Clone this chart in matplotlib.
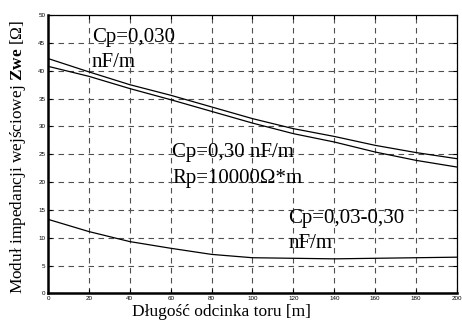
import matplotlib.pyplot as plt

plt.rcParams['font.family'] = ['Liberation Serif', 'DejaVu Serif']
plt.rcParams['mathtext.fontset'] = 'custom'
plt.rcParams['mathtext.rm'] = 'Liberation Serif'
plt.rcParams['mathtext.bf'] = 'Liberation Serif:bold'

# Data
x = [0, 20, 40, 60, 80, 100, 120, 140, 160, 180, 200]
z_cp030 = [42.2, 39.8, 37.5, 35.6, 33.5, 31.4, 29.6, 28.2, 26.6, 25.3, 24.2]
z_cp300 = [40.8, 39.0, 36.8, 34.8, 32.7, 30.6, 28.7, 27.2, 25.4, 23.9, 22.7]
z_rp = [13.3, 11.1, 9.3, 8.1, 7.0, 6.4, 6.3, 6.2, 6.3, 6.4, 6.5]

xticks = list(range(0, 201, 20))
yticks = list(range(0, 51, 5))

fig = plt.figure(figsize=(4.62, 3.22), dpi=100)
ax = fig.add_axes([0.104, 0.089, 0.885, 0.864])

ax.plot(x, z_cp030, color="black", lw=0.9)
ax.plot(x, z_cp300, color="black", lw=0.9)
ax.plot(x, z_rp, color="black", lw=0.9)

ax.set_xlim(0, 200)
ax.set_ylim(0, 50)
ax.set_xticks(xticks)
ax.set_yticks(yticks)
ax.tick_params(direction="in", labelsize=4.5, length=3, width=0.8, pad=2,
               top=True, right=True)
for lbl in ax.get_xticklabels() + ax.get_yticklabels():
    lbl.set_family("Liberation Sans")
ax.grid(True, color="#505050", linestyle=(0, (5, 4)), linewidth=0.8)

for side in ["left", "bottom"]:
    ax.spines[side].set_linewidth(1.8)
for side in ["top", "right"]:
    ax.spines[side].set_linewidth(0.9)

ax.set_xlabel("Długość odcinka toru [m]", fontsize=12.5)
ax.xaxis.set_label_coords(0.425, -0.04)
ax.set_ylabel(r"Moduł impedancji wejściowej $\mathbf{Zwe}$ [Ω]", fontsize=12.4)
ax.yaxis.set_label_coords(-0.05, 0.49)

# annotations, one line per call
fs = 15
ax.text(21.5, 45.2, "Cp=0,030", fontsize=fs, va="baseline")
ax.text(21.5, 40.7, "nF/m", fontsize=fs, va="baseline")
ax.text(60.6, 24.5, "Cp=0,30 nF/m", fontsize=fs, va="baseline")
ax.text(60.6, 19.9, "Rp=10000Ω*m", fontsize=fs, va="baseline")
ax.text(117.4, 12.6, "Cp=0,03-0,30", fontsize=fs, va="baseline")
ax.text(117.4, 8.1, "nF/m", fontsize=fs, va="baseline")

plt.savefig("out.png", dpi=100)
